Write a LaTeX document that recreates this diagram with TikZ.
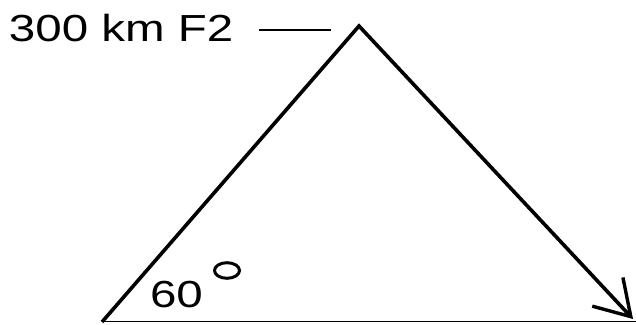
\documentclass[tikz,border=0pt]{standalone}
\usepackage{fontspec}
\setmainfont{Liberation Sans}
\usetikzlibrary{arrows.meta}
\begin{document}
\begin{tikzpicture}[x=1pt,y=1pt,
  lbl/.style={inner sep=0pt,outer sep=0pt,font=\fontsize{37.7}{40}\selectfont},
  thick line/.style={line width=3.6pt,line join=miter},
  thin line/.style={line width=1.8pt}]
\useasboundingbox[fill=white] (0,0) rectangle (636,324);
\coordinate (A) at (102,2);
\coordinate (T) at (359,298);
\coordinate (B) at (633,5);
\coordinate (L) at (103,2.5);
\coordinate (R) at (636,2.5);
\coordinate (m1) at (259,294);
\coordinate (m2) at (331,294);
\draw[thin line] (L) -- (R);
\draw[thick line,-{Straight Barb[length=34pt,width=42pt,line width=3.4pt]}] (A) -- (T) -- (B);
\node[lbl,anchor=base west] (h) at (9,282) {\scalebox{1.26}[1]{300 km F2}};
\draw[thin line] (m1) -- (m2);
\node[lbl,anchor=base west] (ang) at (150,17) {\scalebox{1.26}[1]{60}};
\draw[line width=3pt] (227,53.5) ellipse (12.5 and 7.8);
\end{tikzpicture}
\end{document}
